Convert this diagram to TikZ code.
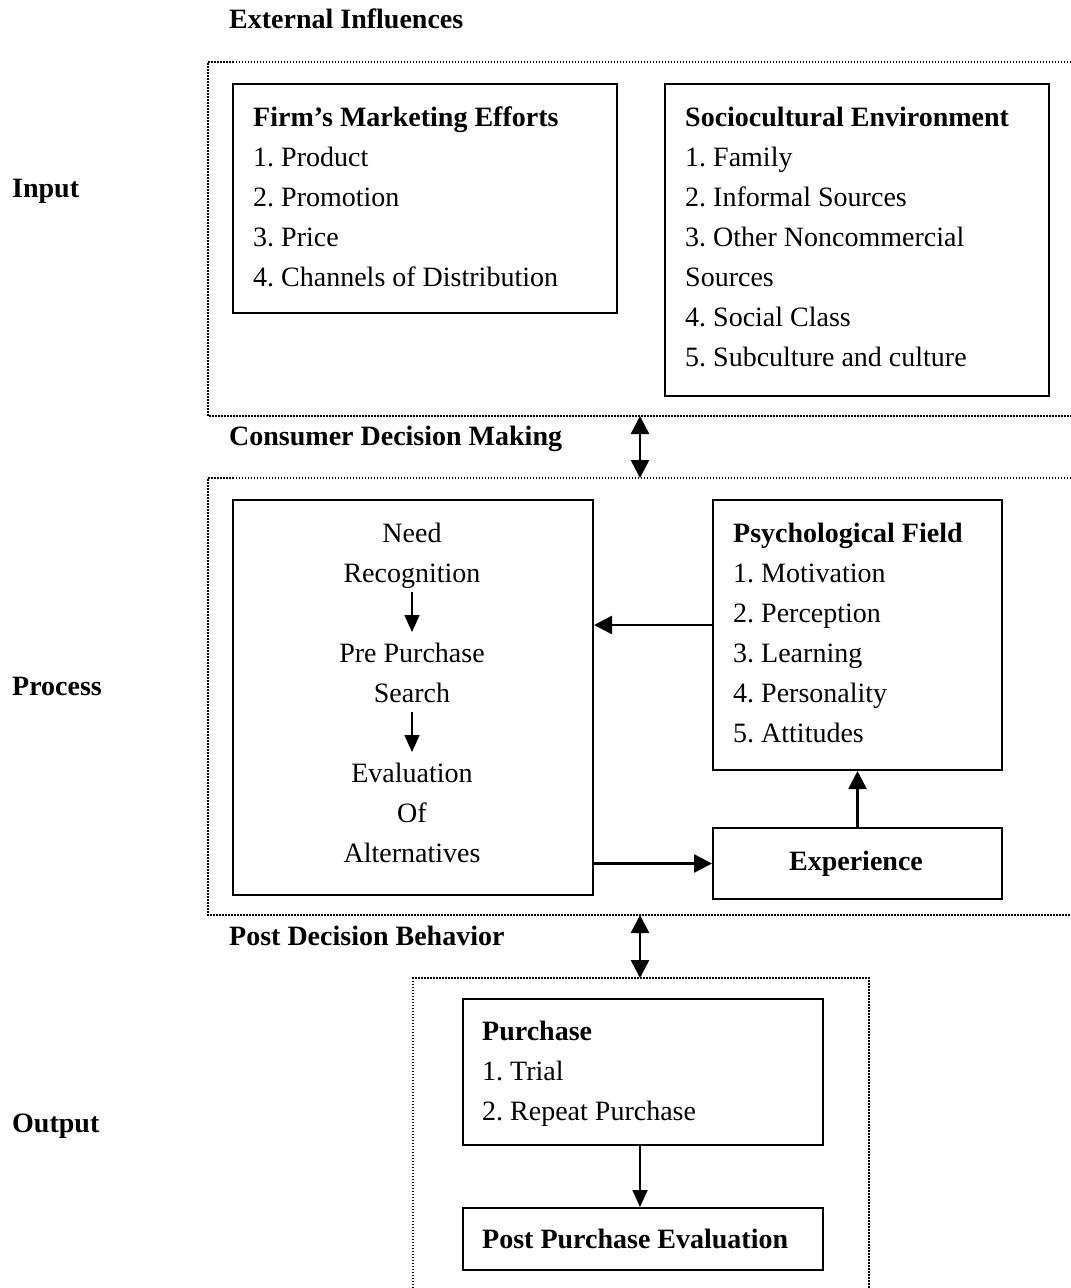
\documentclass[tikz,border=0pt]{standalone}
\usepackage{fontspec}
\setmainfont{Liberation Serif}
\usetikzlibrary{arrows.meta}
\newcommand\mystrut{\rule[-10pt]{0pt}{40pt}}
\frenchspacing
\begin{document}
\begin{tikzpicture}[x=1pt,y=-1pt,
  box/.style={draw=black,line width=2pt,minimum width=#1,inner sep=0pt,anchor=north west},
  txt/.style={inner sep=0pt,font=\fontsize{28}{40}\selectfont\frenchspacing,align=left,anchor=north west},
  ctxt/.style={inner sep=0pt,font=\fontsize{28}{40}\selectfont,align=center,anchor=north},
  lbl/.style={inner sep=0pt,font=\fontsize{28}{40}\selectfont\bfseries,anchor=base west},
  region/.style={line width=1.5pt,dash pattern=on 1.5pt off 1.5pt},
  arr/.style={line width=2.6pt,-{Triangle[length=18pt,width=18pt]}},
  darr/.style={line width=2.6pt,{Triangle[length=18pt,width=18pt]}-{Triangle[length=18pt,width=18pt]}},
  sarr/.style={line width=1.8pt,-{Triangle[length=17pt,width=15pt]}}]
\useasboundingbox[fill=white] (0,0) rectangle (1071,1288);

% dotted regions
\draw[region] (1071,62) -- (208,62) -- (208,416) -- (1071,416);
\draw[region] (1071,478) -- (208,478) -- (208,915) -- (1071,915);
\draw[region] (413,1288) -- (413,978) -- (869,978) -- (869,1288);

% labels
\node[lbl] (ext) at (229,28) {External Influences};
\node[lbl] (inp) at (12,197) {Input};
\node[lbl] (cdm) at (229,445) {Consumer Decision Making};
\node[lbl] (proc) at (12,695) {Process};
\node[lbl] (pdb) at (229,945) {Post Decision Behavior};
\node[lbl] (outp) at (12,1132) {Output};

% boxes
\node[box=384pt,minimum height=229pt] (firm) at (232,83) {};
\node[box=384pt,minimum height=312pt] (socio) at (664,83) {};
\node[box=360pt,minimum height=395pt] (need) at (232,499) {};
\node[box=289pt,minimum height=270pt] (psych) at (712,499) {};
\node[box=289pt,minimum height=71pt] (exp) at (712,827) {};
\node[box=360pt,minimum height=146pt] (purch) at (462,998) {};
\node[box=360pt,minimum height=62pt] (post) at (462,1207) {};

% box texts
\node[txt] (firmT) at (253,96) {\mystrut\textbf{Firm’s Marketing Efforts}\\\mystrut 1. Product\\\mystrut 2. Promotion\\\mystrut 3. Price\\\mystrut 4. Channels of Distribution};
\node[txt] (socioT) at (685,96) {\mystrut\textbf{Sociocultural Environment}\\\mystrut 1. Family\\\mystrut 2. Informal Sources\\\mystrut 3. Other Noncommercial\\\mystrut Sources\\\mystrut 4. Social Class\\\mystrut 5. Subculture and culture};
\node[txt] (psychT) at (733,512) {\mystrut\textbf{Psychological Field}\\\mystrut 1. Motivation\\\mystrut 2. Perception\\\mystrut 3. Learning\\\mystrut 4. Personality\\\mystrut 5. Attitudes};
\node[txt] (purchT) at (482,1010) {\mystrut\textbf{Purchase}\\\mystrut 1. Trial\\\mystrut 2. Repeat Purchase};
\node[ctxt] (needA) at (412,512) {\mystrut Need\\\mystrut Recognition};
\node[ctxt] (needB) at (412,632) {\mystrut Pre Purchase\\\mystrut Search};
\node[ctxt] (needC) at (412,752) {\mystrut Evaluation\\\mystrut Of\\\mystrut Alternatives};
\node[lbl,anchor=base] (expT) at (856,870) {Experience};
\node[lbl] (postT) at (482,1248) {Post Purchase Evaluation};

% connectors
\coordinate (a1) at (640,416);
\coordinate (a2) at (640,478);
\coordinate (b1) at (640,915);
\coordinate (b2) at (640,978);
\draw[darr] (a1) -- (a2);
\draw[darr] (b1) -- (b2);
\draw[sarr] (needA.south) -- (needB.north);
\draw[sarr] (needB.south) -- (needC.north);
\draw[arr] ([yshift=10pt]psych.west) -- ([yshift=10pt]psych.west -| need.east);
\draw[arr] (exp.west -| need.east) -- (exp.west);
\draw[arr] (exp.north) -- (psych.south);
\draw[sarr] (purch.south -| b1) -- (post.north -| b1);
\end{tikzpicture}
\end{document}
